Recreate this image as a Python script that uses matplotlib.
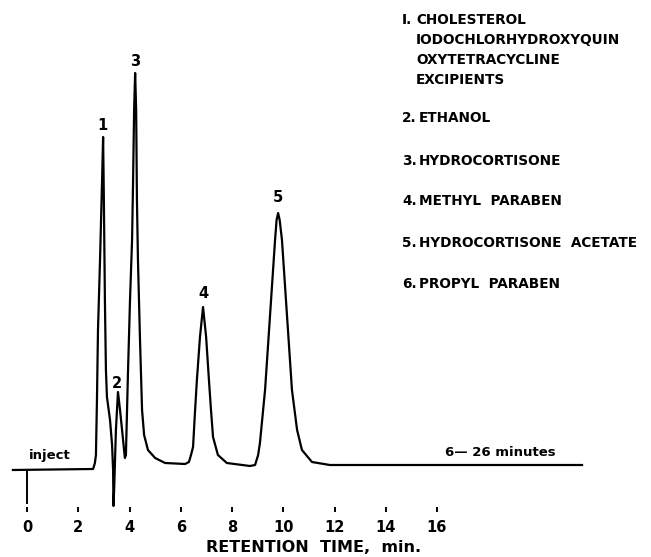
import matplotlib
matplotlib.use('Agg')
import matplotlib.pyplot as plt

time_min = [-0.55, 2.58, 2.65, 2.69, 2.73, 2.77, 2.85, 2.93, 2.97, 3.00, 3.04, 3.08, 3.12,
            3.24, 3.32, 3.36, 3.375, 3.40, 3.47, 3.55, 3.63, 3.71, 3.82, 3.86, 3.94, 4.02,
            4.10, 4.14, 4.18, 4.22, 4.26, 4.29, 4.33, 4.41, 4.49, 4.57, 4.72, 5.00, 5.39,
            6.17, 6.32, 6.40, 6.48, 6.56, 6.63, 6.75, 6.87, 6.99, 7.10, 7.18, 7.26, 7.45,
            7.80, 8.70, 8.90, 9.02, 9.09, 9.29, 9.48, 9.68, 9.74, 9.80, 9.86, 9.95, 10.15,
            10.34, 10.54, 10.73, 11.12, 11.82, 21.66]
signal = [0, 1, 7, 15, 70, 140, 210, 290, 333, 270, 170, 100, 73,
          50, 25, 0, -36, -20, 40, 78, 60, 40, 12, 15, 97, 170,
          230, 290, 360, 397, 360, 270, 210, 130, 60, 35, 20, 12, 7,
          6, 8, 15, 23, 60, 90, 133, 163, 133, 90, 60, 33, 15,
          7, 4, 5, 15, 27, 80, 153, 230, 250, 257, 250, 230, 153,
          80, 40, 20, 8, 5, 5]

peak_ids = ['1', '2', '3', '4', '5']
peak_times = [2.94, 3.5, 4.22, 6.87, 9.80]
peak_label_y = [345, 87, 408, 177, 272]

x_ticks = [0, 2, 4, 6, 8, 10, 12, 14, 16]

legend_lines = ['I.', 'CHOLESTEROL', 'IODOCHLORHYDROXYQUIN', 'OXYTETRACYCLINE', 'EXCIPIENTS']
legend_items = ['2.', 'ETHANOL', '3.', 'HYDROCORTISONE', '4.', 'METHYL  PARABEN',
                '5.', 'HYDROCORTISONE  ACETATE', '6.', 'PROPYL  PARABEN']

W, H = 651, 557
fig = plt.figure(figsize=(W / 100, H / 100), dpi=100)
ax = fig.add_axes([0, 0, 1, 1])
ax.set_xlim(-27 / 25.625, (W - 27) / 25.625)
ax.set_ylim(-87, 470)
ax.axis('off')

ax.plot(time_min, signal, color='black', lw=1.6, solid_joinstyle='round')

# inject marker
ax.plot([0, 0], [0, -33], color='black', lw=1.4)
ax.text(0.08, 15, 'inject', fontsize=9.5, fontweight='bold', ha='left', va='center')

# peak numbers
for pid, t, y in zip(peak_ids, peak_times, peak_label_y):
    ax.text(t, y, pid, fontsize=10.5, fontweight='bold', ha='center', va='center')

# x axis: bare tick marks with labels
ax.vlines(x_ticks, -42, -37, color='black', lw=1.4)
for t in x_ticks:
    ax.text(t, -58, str(t), fontsize=10.5, fontweight='bold', ha='center', va='center')
ax.text(11.2, -78, 'RETENTION  TIME,  min.', fontsize=11.5, fontweight='bold',
        ha='center', va='center')

ax.text(16.3, 17, '6\u2014 26 minutes', fontsize=9.5, fontweight='bold', ha='left', va='center')

# compound key
def px(x, y):
    return x / W, 1 - y / H

fs = 9.8
fig.text(*px(402, 20), legend_lines[0], fontsize=fs, fontweight='bold', va='center')
for i, name in enumerate(legend_lines[1:]):
    fig.text(*px(416, 20 + i * 20), name, fontsize=fs, fontweight='bold', va='center')
key_y = [118, 161, 201, 243, 284]
for i, y in enumerate(key_y):
    fig.text(*px(402, y), legend_items[2 * i], fontsize=fs, fontweight='bold', va='center')
    fig.text(*px(419, y), legend_items[2 * i + 1], fontsize=fs, fontweight='bold', va='center')

fig.savefig('out.png', dpi=100)
